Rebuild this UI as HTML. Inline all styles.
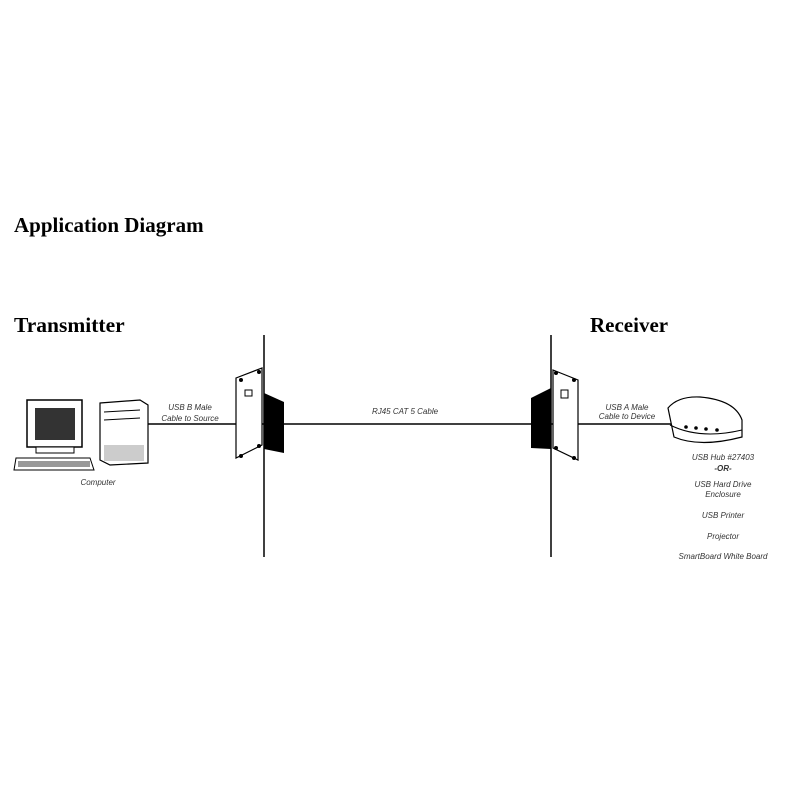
<!DOCTYPE html>
<html><head><style>body{margin:0;background:#fff}svg{display:block}</style></head><body>
<svg width="800" height="800" viewBox="0 0 800 800" xmlns="http://www.w3.org/2000/svg">
<rect width="800" height="800" fill="#fff"/>
<g font-family="Liberation Serif, serif" font-weight="bold" fill="#000">
<text x="14" y="232" font-size="21">Application Diagram</text>
<text x="14" y="332" font-size="21.5">Transmitter</text>
<text x="590" y="332" font-size="21">Receiver</text>
</g>
<g stroke="#000" stroke-width="1.5">
<line x1="264" y1="335" x2="264" y2="557"/>
<line x1="551" y1="335" x2="551" y2="557"/>
<line x1="148" y1="424" x2="688" y2="424"/>
</g>
<polygon points="264,393 284,402 284,453 264,449" fill="#000"/>
<polygon points="236,378 262,368 262,445 236,458" fill="#fff" stroke="#000" stroke-width="1.2"/>
<rect x="245" y="390" width="7" height="6" fill="none" stroke="#000"/>
<circle cx="241" cy="380" r="2" fill="#000"/><circle cx="259" cy="372" r="2" fill="#000"/>
<circle cx="241" cy="456" r="2" fill="#000"/><circle cx="259" cy="446" r="2" fill="#000"/>
<polygon points="551,388 531,398 531,448 551,449" fill="#000"/>
<polygon points="553,370 578,380 578,460 553,448" fill="#fff" stroke="#000" stroke-width="1.2"/>
<rect x="561" y="390" width="7" height="8" fill="none" stroke="#000"/>
<circle cx="556" cy="373" r="2" fill="#000"/><circle cx="574" cy="380" r="2" fill="#000"/>
<circle cx="556" cy="448" r="2" fill="#000"/><circle cx="574" cy="458" r="2" fill="#000"/>
<rect x="27" y="400" width="55" height="47" fill="#fff" stroke="#000" stroke-width="1.5"/>
<rect x="35" y="408" width="40" height="32" fill="#333"/>
<rect x="36" y="447" width="38" height="6" fill="#fff" stroke="#000"/>
<polygon points="16,458 90,458 94,470 14,470" fill="#fff" stroke="#000"/>
<rect x="18" y="461" width="72" height="6" fill="#999"/>
<polygon points="100,403 140,400 148,405 148,463 110,465 100,460" fill="#fff" stroke="#000" stroke-width="1.2"/>
<line x1="104" y1="412" x2="140" y2="410" stroke="#000"/>
<line x1="104" y1="420" x2="140" y2="418" stroke="#000"/>
<rect x="104" y="445" width="40" height="16" fill="#ccc"/>
<path d="M668,408 Q678,396 700,397 Q735,400 742,420 L742,437 Q700,448 674,437 Z" fill="#fff" stroke="#000" stroke-width="1.2"/>
<path d="M670,425 Q700,440 742,430" fill="none" stroke="#000"/>
<circle cx="686" cy="427" r="1.8" fill="#000"/><circle cx="696" cy="428" r="1.8" fill="#000"/><circle cx="706" cy="429" r="1.8" fill="#000"/><circle cx="717" cy="430" r="1.8" fill="#000"/>
<g font-family="Liberation Sans, sans-serif" font-style="italic" font-size="8" fill="#333" text-anchor="middle">
<text x="190" y="410">USB B Male</text><text x="190" y="421">Cable to Source</text>
<text x="98" y="485">Computer</text>
<text x="405" y="414">RJ45 CAT 5 Cable</text>
<text x="627" y="410">USB A Male</text><text x="627" y="419">Cable to Device</text>
<text x="723" y="460">USB Hub #27403</text>
<text x="723" y="471" font-weight="bold">-OR-</text>
<text x="723" y="487">USB Hard Drive</text><text x="723" y="497">Enclosure</text>
<text x="723" y="518">USB Printer</text>
<text x="723" y="539">Projector</text>
<text x="723" y="559">SmartBoard White Board</text>
</g>
</svg>
</body></html>
